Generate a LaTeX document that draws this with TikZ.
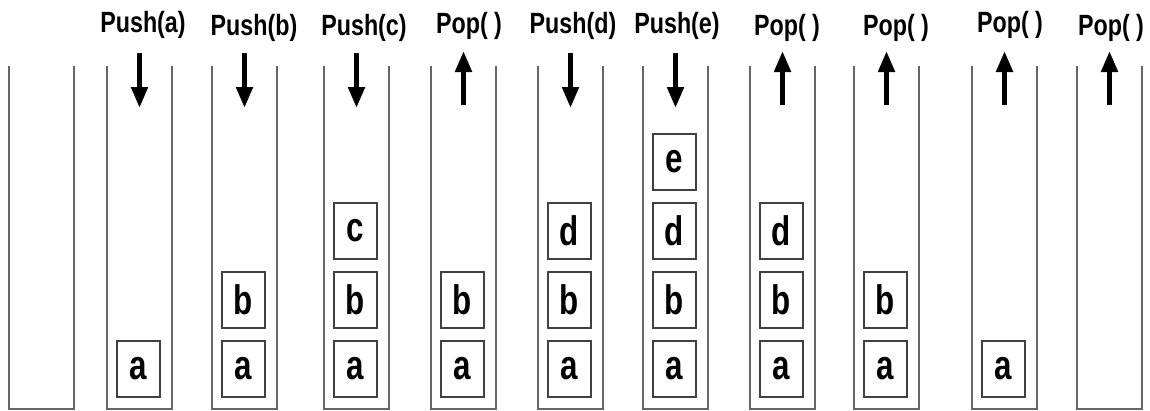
\documentclass[tikz,border=0pt]{standalone}
\usepackage{fontspec}
\setmainfont{Liberation Sans}
\usepackage{graphicx}
\usetikzlibrary{arrows.meta}
\newcommand{\vs}[1]{\scalebox{0.97}[1.22]{#1}}
\newcommand{\vb}[1]{\scalebox{0.95}[1.25]{#1}}
\begin{document}
\begin{tikzpicture}[x=1pt,y=-1pt,
  cont/.style={draw=black!60,line width=1.1pt},
  item/.style={draw=black!75,line width=1.2pt,minimum width=43pt,minimum height=56pt,inner sep=0pt,font=\bfseries\fontsize{33}{33}\selectfont},
  lbl/.style={anchor=base,inner sep=0pt,font=\bfseries\fontsize{24}{24}\selectfont},
  op/.style={line width=5pt,-{Triangle[length=21pt,width=16pt]}}]
\useasboundingbox (0,0) rectangle (1150,410);
% containers
\foreach \l in {9,107,212,324,431,538,643,750,854,972,1077}
  \draw[cont] (\l,66) -- (\l,409) -- (\l+65,409) -- (\l+65,66);
% labels
\node[lbl] (L1) at (143,32) {\vs{Push(a)}};
\node[lbl] (L2) at (254,35) {\vs{Push(b)}};
\node[lbl] (L3) at (364,35) {\vs{Push(c)}};
\node[lbl] (L4) at (469,33) {\vs{Pop( )}};
\node[lbl] (L5) at (573,33) {\vs{Push(d)}};
\node[lbl] (L6) at (677,33) {\vs{Push(e)}};
\node[lbl] (L7) at (787,35) {\vs{Pop( )}};
\node[lbl] (L8) at (896,35) {\vs{Pop( )}};
\node[lbl] (L9) at (1010,32) {\vs{Pop( )}};
\node[lbl] (L10) at (1111,35) {\vs{Pop( )}};
% arrows
\foreach \n/\x in {1/139.5,2/244.5,3/356.5,5/570.5,6/675.5}{
  \coordinate (A\n s) at (\x,53);
  \coordinate (A\n e) at (\x,108);
  \draw[op] (A\n s) -- (A\n e);
}
\foreach \n/\x in {4/463.5,7/782.5,8/886.5,9/1004.5,10/1109.5}{
  \coordinate (A\n s) at (\x,105);
  \coordinate (A\n e) at (\x,51);
  \draw[op] (A\n s) -- (A\n e);
}
% stack items
\node[item] (s2a) at (138.5,369) {\vb{a}};
\node[item] (s3a) at (243.5,369) {\vb{a}};
\node[item] (s3b) at (243.5,300) {\vb{b}};
\node[item] (s4a) at (355.5,369) {\vb{a}};
\node[item] (s4b) at (355.5,300) {\vb{b}};
\node[item] (s4c) at (355.5,231) {\vb{c}};
\node[item] (s5a) at (462.5,369) {\vb{a}};
\node[item] (s5b) at (462.5,300) {\vb{b}};
\node[item] (s6a) at (569.5,369) {\vb{a}};
\node[item] (s6b) at (569.5,300) {\vb{b}};
\node[item] (s6d) at (569.5,231) {\vb{d}};
\node[item] (s7a) at (674.5,369) {\vb{a}};
\node[item] (s7b) at (674.5,300) {\vb{b}};
\node[item] (s7d) at (674.5,231) {\vb{d}};
\node[item] (s7e) at (674.5,162) {\vb{e}};
\node[item] (s8a) at (781.5,369) {\vb{a}};
\node[item] (s8b) at (781.5,300) {\vb{b}};
\node[item] (s8d) at (781.5,231) {\vb{d}};
\node[item] (s9a) at (885.5,369) {\vb{a}};
\node[item] (s9b) at (885.5,300) {\vb{b}};
\node[item] (s10a) at (1003.5,369) {\vb{a}};
\end{tikzpicture}
\end{document}
